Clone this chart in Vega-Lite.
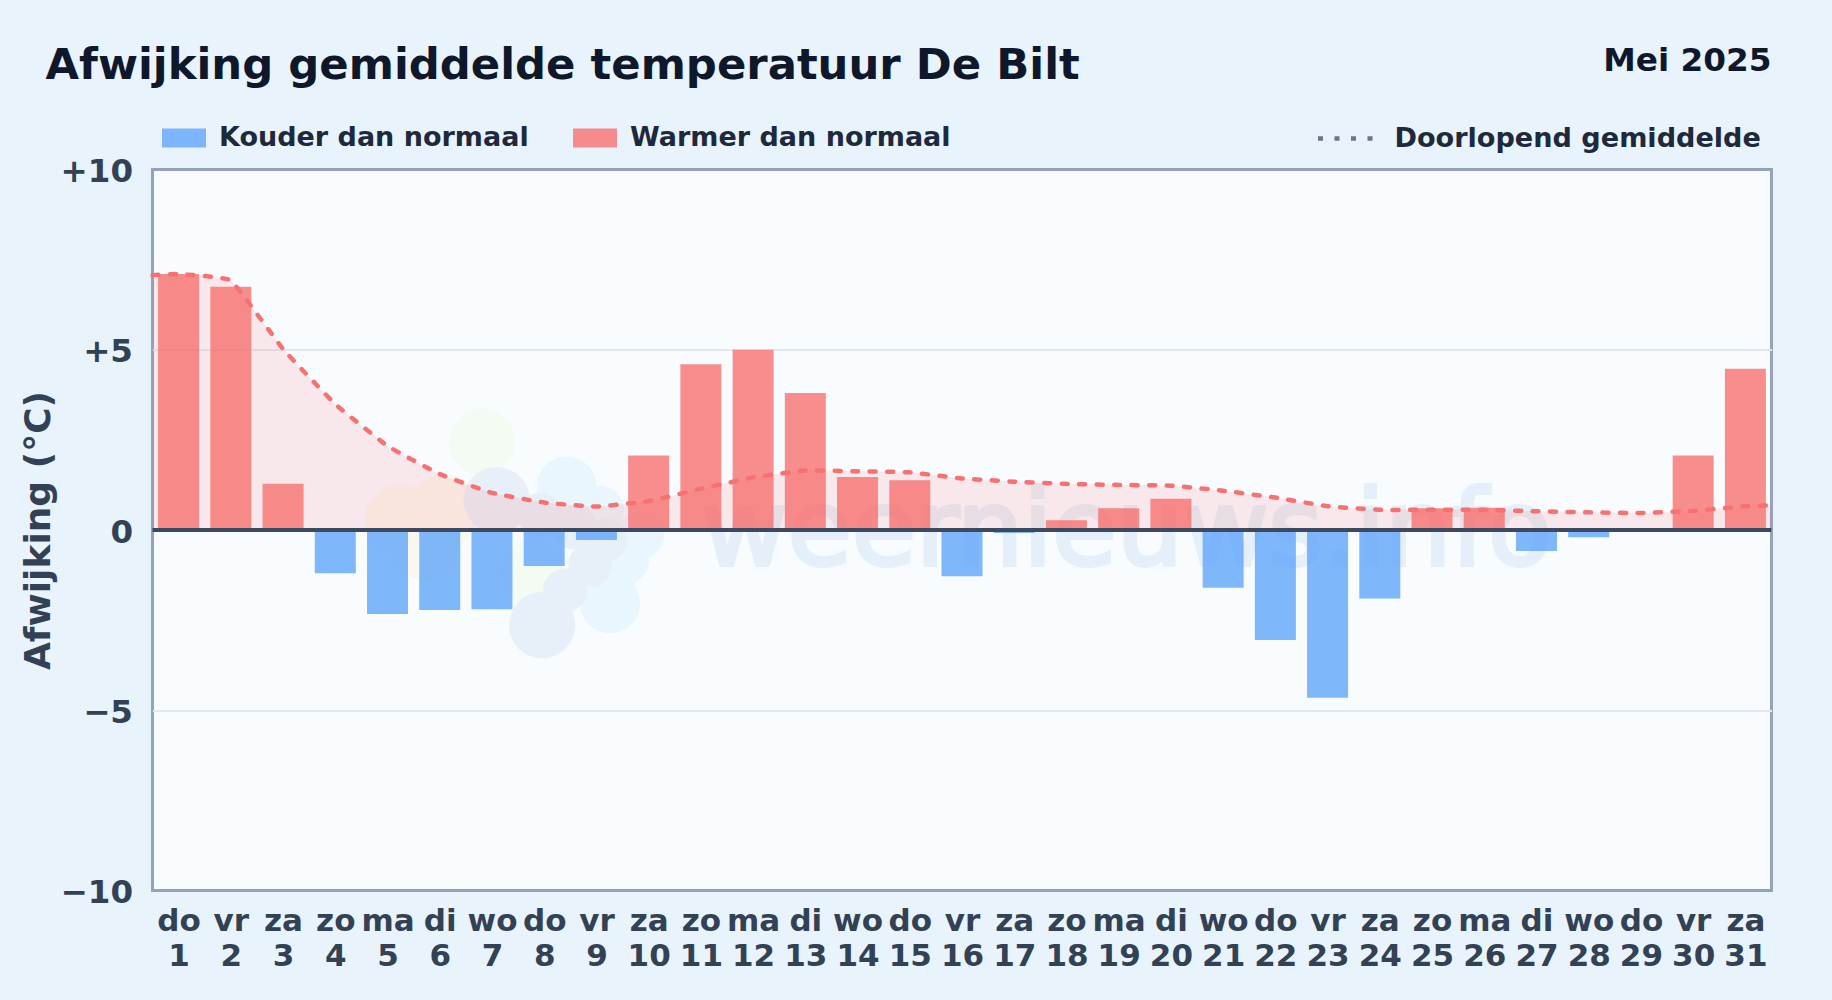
{"$schema":"https://vega.github.io/schema/vega-lite/v6.json","width":1619,"height":721,"padding":{"left":152.5,"top":169.5,"right":60.5,"bottom":109.5},"autosize":{"type":"none"},"background":"#e8f3fc","view":{"fill":"#f8fcff","stroke":"#94a3b8","strokeWidth":3},"config":{"font":"DejaVu Sans"},"datasets":{"bars":[{"dag":1,"afwijking":7.1,"soort":"Warmer dan normaal"},{"dag":2,"afwijking":6.75,"soort":"Warmer dan normaal"},{"dag":3,"afwijking":1.28,"soort":"Warmer dan normaal"},{"dag":4,"afwijking":-1.2,"soort":"Kouder dan normaal"},{"dag":5,"afwijking":-2.33,"soort":"Kouder dan normaal"},{"dag":6,"afwijking":-2.22,"soort":"Kouder dan normaal"},{"dag":7,"afwijking":-2.2,"soort":"Kouder dan normaal"},{"dag":8,"afwijking":-1.0,"soort":"Kouder dan normaal"},{"dag":9,"afwijking":-0.28,"soort":"Kouder dan normaal"},{"dag":10,"afwijking":2.07,"soort":"Warmer dan normaal"},{"dag":11,"afwijking":4.6,"soort":"Warmer dan normaal"},{"dag":12,"afwijking":5.0,"soort":"Warmer dan normaal"},{"dag":13,"afwijking":3.8,"soort":"Warmer dan normaal"},{"dag":14,"afwijking":1.47,"soort":"Warmer dan normaal"},{"dag":15,"afwijking":1.38,"soort":"Warmer dan normaal"},{"dag":16,"afwijking":-1.28,"soort":"Kouder dan normaal"},{"dag":17,"afwijking":-0.08,"soort":"Kouder dan normaal"},{"dag":18,"afwijking":0.27,"soort":"Warmer dan normaal"},{"dag":19,"afwijking":0.6,"soort":"Warmer dan normaal"},{"dag":20,"afwijking":0.87,"soort":"Warmer dan normaal"},{"dag":21,"afwijking":-1.6,"soort":"Kouder dan normaal"},{"dag":22,"afwijking":-3.05,"soort":"Kouder dan normaal"},{"dag":23,"afwijking":-4.65,"soort":"Kouder dan normaal"},{"dag":24,"afwijking":-1.9,"soort":"Kouder dan normaal"},{"dag":25,"afwijking":0.6,"soort":"Warmer dan normaal"},{"dag":26,"afwijking":0.62,"soort":"Warmer dan normaal"},{"dag":27,"afwijking":-0.58,"soort":"Kouder dan normaal"},{"dag":28,"afwijking":-0.2,"soort":"Kouder dan normaal"},{"dag":29,"afwijking":0,"soort":"Warmer dan normaal"},{"dag":30,"afwijking":2.07,"soort":"Warmer dan normaal"},{"dag":31,"afwijking":4.47,"soort":"Warmer dan normaal"}],"gemiddelde":[{"dag":0.5,"gem":7.07},{"dag":1,"gem":7.1},{"dag":2,"gem":6.92},{"dag":3,"gem":5.02},{"dag":4,"gem":3.49},{"dag":5,"gem":2.33},{"dag":6,"gem":1.55},{"dag":7,"gem":1.03},{"dag":8,"gem":0.76},{"dag":9,"gem":0.65},{"dag":10,"gem":0.8},{"dag":11,"gem":1.14},{"dag":12,"gem":1.46},{"dag":13,"gem":1.65},{"dag":14,"gem":1.63},{"dag":15,"gem":1.6},{"dag":16,"gem":1.43},{"dag":17,"gem":1.34},{"dag":18,"gem":1.28},{"dag":19,"gem":1.25},{"dag":20,"gem":1.23},{"dag":21,"gem":1.09},{"dag":22,"gem":0.9},{"dag":23,"gem":0.66},{"dag":24,"gem":0.56},{"dag":25,"gem":0.56},{"dag":26,"gem":0.56},{"dag":27,"gem":0.52},{"dag":28,"gem":0.49},{"dag":29,"gem":0.47},{"dag":30,"gem":0.53},{"dag":31,"gem":0.66},{"dag":31.5,"gem":0.68}]},"data":{"name":"bars"},"layer":[{"data":{"name":"gemiddelde"},"mark":{"type":"area","opacity":0},"encoding":{"x":{"field":"dag","type":"quantitative","scale":{"domain":[0.5,31.5],"nice":false,"zero":false,"padding":0},"axis":{"values":[1,2,3,4,5,6,7,8,9,10,11,12,13,14,15,16,17,18,19,20,21,22,23,24,25,26,27,28,29,30,31],"title":null,"grid":false,"domain":false,"ticks":false,"labelFont":"DejaVu Sans","labelFontWeight":"bold","labelFontSize":31,"labelColor":"#334155","labelPadding":16,"labelLineHeight":35,"labelOverlap":false,"labelFlush":false,"labelBaseline":"top","labelExpr":"[['do','vr','za','zo','ma','di','wo'][(datum.value-1)%7], ''+datum.value]"}},"y":{"field":"gem","type":"quantitative","scale":{"domain":[-10,10],"nice":false},"axis":{"values":[-10,-5,0,5,10],"title":"Afwijking (°C)","titleFont":"DejaVu Sans","titleFontWeight":"bold","titleFontSize":36,"titleColor":"#334155","titlePadding":3,"grid":true,"gridColor":"#e2e8f0","gridWidth":2,"gridOpacity":{"condition":{"test":"abs(datum.value)==10","value":0},"value":1},"domain":false,"ticks":false,"labelFont":"DejaVu Sans","labelFontWeight":"bold","labelFontSize":32.5,"labelColor":"#334155","labelPadding":20,"labelOffset":2,"labelExpr":"datum.value>0?'+'+datum.value:datum.value<0?'−'+(-datum.value):'0'"}}}},{"data":{"values":[{"x":6.81,"y":2.45},{"x":7.79,"y":-1.19}]},"mark":{"type":"point","filled":true,"opacity":1,"size":4400,"color":"#f3fbf3"},"encoding":{"x":{"field":"x","type":"quantitative"},"y":{"field":"y","type":"quantitative"}}},{"data":{"values":[{"x":5.24,"y":0.28},{"x":6.1,"y":0.56},{"x":5.7,"y":-0.4}]},"mark":{"type":"point","filled":true,"opacity":1,"size":5000,"color":"#faf7f0"},"encoding":{"x":{"field":"x","type":"quantitative"},"y":{"field":"y","type":"quantitative"}}},{"data":{"values":[{"x":8.43,"y":1.2},{"x":9.26,"y":-2.03}]},"mark":{"type":"point","filled":true,"opacity":1,"size":3600,"color":"#e9f6fe"},"encoding":{"x":{"field":"x","type":"quantitative"},"y":{"field":"y","type":"quantitative"}}},{"data":{"values":[{"x":9.07,"y":0.56},{"x":9.84,"y":-0.14},{"x":9.55,"y":-0.83},{"x":9.3,"y":-1.3}]},"mark":{"type":"point","filled":true,"opacity":1,"size":2300,"color":"#e9f6fe"},"encoding":{"x":{"field":"x","type":"quantitative"},"y":{"field":"y","type":"quantitative"}}},{"data":{"values":[{"x":7.09,"y":0.83},{"x":7.96,"y":-2.64}]},"mark":{"type":"point","filled":true,"opacity":1,"size":4400,"color":"#e7f0f9"},"encoding":{"x":{"field":"x","type":"quantitative"},"y":{"field":"y","type":"quantitative"}}},{"data":{"values":[{"x":7.92,"y":0.42},{"x":8.59,"y":0.06},{"x":9.17,"y":-0.28},{"x":8.88,"y":-0.97},{"x":8.4,"y":-1.67}]},"mark":{"type":"point","filled":true,"opacity":1,"size":1936,"color":"#e7f0f9"},"encoding":{"x":{"field":"x","type":"quantitative"},"y":{"field":"y","type":"quantitative"}}},{"data":{"values":[{"t":"weernieuws.info","x":11.02,"y":-0.97}]},"mark":{"type":"text","font":"DejaVu Sans","fontSize":104.5,"color":"#4b86c9","stroke":"#4b86c9","strokeWidth":4,"opacity":0.1,"align":"left","baseline":"alphabetic"},"encoding":{"x":{"field":"x","type":"quantitative"},"y":{"field":"y","type":"quantitative"},"text":{"field":"t"}}},{"data":{"name":"gemiddelde"},"mark":{"type":"area","interpolate":"cardinal","tension":0.7,"color":"#f87171","opacity":0.14},"encoding":{"x":{"field":"dag","type":"quantitative"},"y":{"field":"gem","type":"quantitative"},"y2":{"datum":0}}},{"mark":{"type":"bar","size":41,"opacity":0.8},"encoding":{"x":{"field":"dag","type":"quantitative"},"y":{"field":"afwijking","type":"quantitative"},"y2":{"datum":0},"fill":{"field":"soort","type":"nominal","scale":{"domain":["Kouder dan normaal","Warmer dan normaal"],"range":["#60a5fa","#f87171"]},"legend":{"title":null,"orient":"none","direction":"horizontal","legendX":9.5,"legendY":-53.5,"symbolType":"M-1,-0.43H1V0.43H-1Z","symbolSize":1936,"symbolStrokeWidth":0,"symbolOpacity":0.8,"labelFont":"DejaVu Sans","labelFontWeight":"bold","labelFontSize":27,"labelColor":"#1e293b","labelOffset":13,"columnPadding":44,"labelLimit":500}}}},{"data":{"name":"gemiddelde"},"mark":{"type":"line","interpolate":"cardinal","tension":0.7,"stroke":"#f87171","strokeWidth":4.5,"strokeDash":[6,11.5],"strokeCap":"round"},"encoding":{"x":{"field":"dag","type":"quantitative"},"y":{"field":"gem","type":"quantitative"},"opacity":{"datum":"Doorlopend gemiddelde","type":"nominal","scale":{"range":[1]},"legend":{"title":null,"orient":"none","legendX":1163,"legendY":-61,"symbolType":"stroke","symbolSize":3025,"symbolDash":[5,11.5],"symbolStrokeColor":"#6b7787","symbolStrokeWidth":4.5,"labelFont":"DejaVu Sans","labelFontWeight":"bold","labelFontSize":27.1,"labelColor":"#1e293b","labelOffset":19,"labelLimit":500}}}},{"data":{"values":[{"nul":0}]},"mark":{"type":"rule","color":"#3b4a60","strokeWidth":4},"encoding":{"y":{"field":"nul","type":"quantitative"}}},{"data":{"values":[{"t":"Afwijking gemiddelde temperatuur De Bilt","x":0.5,"y":12.88}]},"mark":{"type":"text","font":"DejaVu Sans","fontWeight":"bold","fontSize":43.35,"color":"#0f172a","align":"left","baseline":"middle","dx":-107},"encoding":{"x":{"field":"x","type":"quantitative"},"y":{"field":"y","type":"quantitative"},"text":{"field":"t"}}},{"data":{"values":[{"t":"Mei 2025","x":31.5,"y":13.02}]},"mark":{"type":"text","font":"DejaVu Sans","fontWeight":"bold","fontSize":32.7,"color":"#0f172a","align":"right","baseline":"middle"},"encoding":{"x":{"field":"x","type":"quantitative"},"y":{"field":"y","type":"quantitative"},"text":{"field":"t"}}}]}
